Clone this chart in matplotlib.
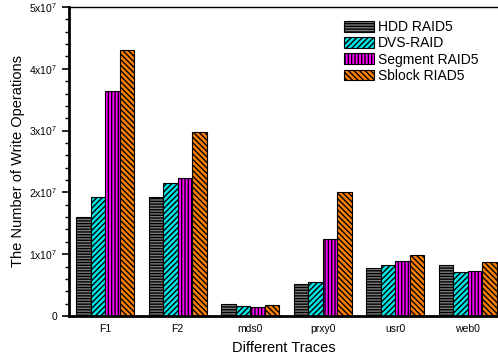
import numpy as np
import matplotlib
matplotlib.use("Agg")
import matplotlib.pyplot as plt
from matplotlib.ticker import MultipleLocator, FixedLocator

plt.rcParams['font.family'] = ['Liberation Sans', 'DejaVu Sans']
plt.rcParams['mathtext.default'] = 'regular'
plt.rcParams['hatch.linewidth'] = 1.0

traces = ["F1", "F2", "mds0", "prxy0", "usr0", "web0"]
series = ["HDD RAID5", "DVS-RAID", "Segment RAID5", "Sblock RIAD5"]
hdd = [1.60e7, 1.92e7, 0.19e7, 0.52e7, 0.78e7, 0.82e7]
dvs = [1.93e7, 2.16e7, 0.16e7, 0.55e7, 0.82e7, 0.71e7]
segment = [3.64e7, 2.24e7, 0.15e7, 1.25e7, 0.89e7, 0.73e7]
sblock = [4.30e7, 2.97e7, 0.17e7, 2.00e7, 0.98e7, 0.87e7]

colors = ["#7a7a7a", "#00e5e5", "#ff00ff", "#ff8000"]
hatches = ["------", "//////", "|||||", "\\\\\\\\\\\\"]

fig = plt.figure(figsize=(4.98, 3.64), dpi=100)
ax = fig.add_axes([0.1386, 0.1319, 0.8614, 0.8489])

x = np.arange(len(traces))
w = 0.2
for i, vals in enumerate([hdd, dvs, segment, sblock]):
    ax.bar(x + (i - 1.5) * w, vals, w, color=colors[i], edgecolor="black",
           linewidth=0.8, hatch=hatches[i], label=series[i])

ax.set_xlim(-0.5, 5.42)
ax.set_ylim(0, 5e7)
ax.set_xticks(x)
ax.set_xticklabels(traces, fontsize=7.5)
ax.tick_params(axis='x', length=0, pad=6)

ax.yaxis.set_major_locator(FixedLocator([0, 1e7, 2e7, 3e7, 4e7, 5e7]))
ax.set_yticklabels(["0"] + ["%dx10$^{7}$" % i for i in range(1, 6)], fontsize=7.5)
ax.yaxis.set_minor_locator(MultipleLocator(2e6))
ax.tick_params(axis='y', which='major', length=5, width=1.2, direction='out')
ax.tick_params(axis='y', which='minor', length=3, width=1.0, direction='out')

ax.spines['right'].set_visible(False)
ax.spines['left'].set_linewidth(2)
ax.spines['bottom'].set_linewidth(2)
ax.spines['top'].set_linewidth(1)

ax.set_xlabel("Different Traces", fontsize=10.5, labelpad=5)
ax.set_ylabel("The Number of Write Operations", fontsize=10.5, labelpad=3)

ax.legend(loc="upper right", bbox_to_anchor=(0.983, 0.997), frameon=False,
          fontsize=10, handlelength=2.1, handleheight=0.8, labelspacing=0.15,
          handletextpad=0.3)

fig.savefig("out.png", dpi=100)
